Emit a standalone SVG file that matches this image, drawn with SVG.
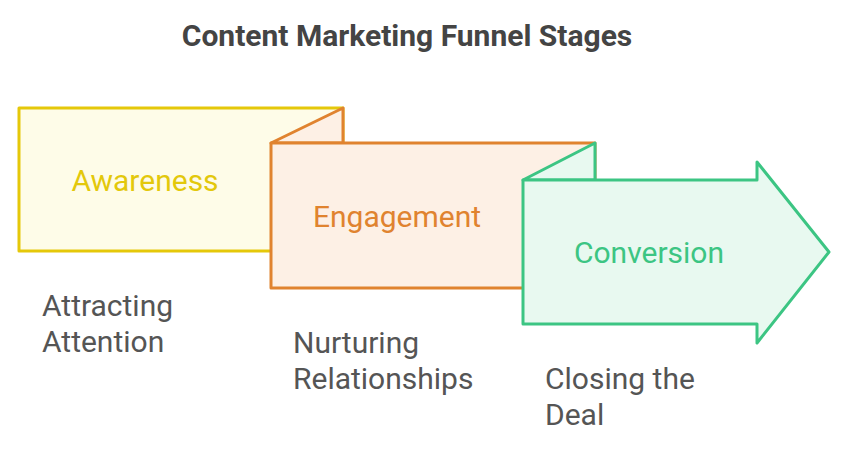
<svg xmlns="http://www.w3.org/2000/svg" width="850" height="450" viewBox="0 0 850 450">
<style>
text{font-family:Roboto,"Liberation Sans",sans-serif}
.title{font-size:30px;font-weight:bold;fill:#444444}
.lbl{font-size:30px;text-anchor:middle}
.cap{font-size:30px;fill:#555555}
.y{fill:#FEFCE8;stroke:#E5C80A;stroke-width:3;stroke-linejoin:round}
.o{fill:#FDF0E5;stroke:#E0832F;stroke-width:3;stroke-linejoin:round}
.g{fill:#E8F9F0;stroke:#3CC583;stroke-width:3;stroke-linejoin:round}
</style>
<rect width="850" height="450" fill="#ffffff"/>
<text class="title" x="407" y="46" text-anchor="middle">Content Marketing Funnel Stages</text>
<g id="awareness">
<rect class="y" x="19" y="108" width="324" height="143"/>
<text class="lbl" x="145" y="191" fill="#E3C80B">Awareness</text>
</g>
<g id="engagement">
<path class="o" d="M271,143 L343,108 L343,143 Z"/>
<rect class="o" x="271" y="143" width="324" height="145"/>
<text class="lbl" x="397" y="227" fill="#E0832F">Engagement</text>
</g>
<g id="conversion">
<path class="g" d="M523,180 L595,143 L595,180 Z"/>
<path class="g" d="M523,180 L757,180 L757,162 L829,252 L757,343 L757,324 L523,324 Z"/>
<text class="lbl" x="649" y="263" fill="#3CC583">Conversion</text>
</g>
<g id="captions">
<text class="cap" x="42" y="316">Attracting</text>
<text class="cap" x="42" y="352">Attention</text>
<text class="cap" x="293" y="353">Nurturing</text>
<text class="cap" x="293" y="389">Relationships</text>
<text class="cap" x="545" y="389">Closing the</text>
<text class="cap" x="545" y="425">Deal</text>
</g>
<g id="connectors"></g>
</svg>
